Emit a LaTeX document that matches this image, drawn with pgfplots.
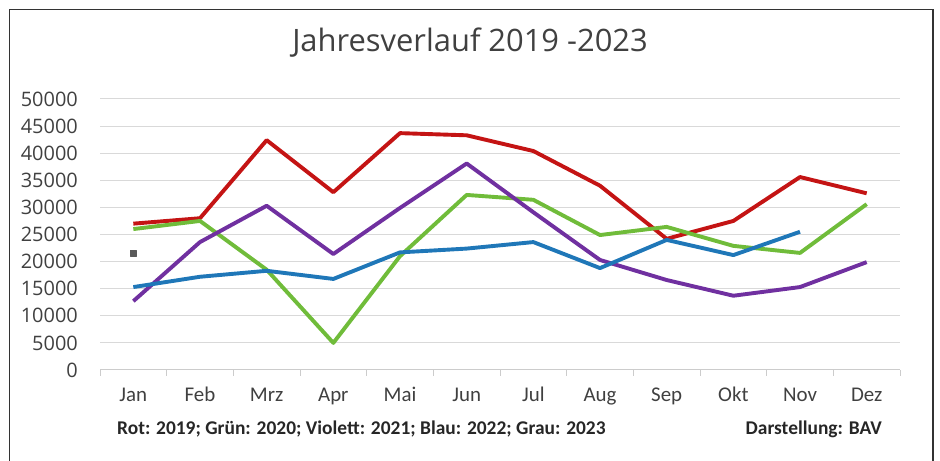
\documentclass[border=0pt]{standalone}
\usepackage{pgfplots}
\pgfplotsset{compat=1.18}
\usepackage{fontspec}
\setmainfont{Carlito}
\newfontfamily\titlefont{Open Sans}
\definecolor{rot}{RGB}{196,20,20}
\definecolor{gruen}{RGB}{112,188,58}
\definecolor{violett}{RGB}{112,48,160}
\definecolor{blau}{RGB}{31,119,184}
\definecolor{grau}{RGB}{90,90,90}
\definecolor{txt}{RGB}{64,64,64}
\begin{document}
\begin{tikzpicture}[x=1bp,y=1bp]
\path[use as bounding box] (0,0) rectangle (940,461);
\draw[line width=1.8bp, black!80] (9.5,0) -- (9.5,451.5) -- (933,451.5) -- (933,0);
\node[anchor=base, inner sep=0pt, font=\titlefont\fontsize{31}{34}\selectfont, text=txt] at (470,409) {Jahresverlauf 2019 -2023};
\node[anchor=base west, inner sep=0pt, font=\bfseries\fontsize{19.5}{22}\selectfont, text=black!85] at (117,26) {Rot: 2019; Grün: 2020; Violett: 2021; Blau: 2022; Grau: 2023};
\node[anchor=base east, inner sep=0pt, font=\bfseries\fontsize{19.5}{22}\selectfont, text=black!85] at (882,26) {Darstellung: BAV};
\begin{axis}[
  at={(100bp,91bp)}, anchor=south west,
  scale only axis, width=800bp, height=271bp,
  xmin=-0.5, xmax=11.5, ymin=0, ymax=50000,
  axis lines*=left,
  y axis line style={draw=none},
  x axis line style={gray!40, line width=1bp},
  xtick={0,...,11},
  xticklabels={Jan,Feb,Mrz,Apr,Mai,Jun,Jul,Aug,Sep,Okt,Nov,Dez},
  minor xtick={-0.5,0.5,...,11.5},
  major tick length=0pt,
  minor tick length=6bp,
  tick align=outside,
  minor tick style={gray!40, line width=1bp},
  ytick={0,5000,...,50000},
  scaled y ticks=false,
  /pgf/number format/assume math mode=true,
  /pgf/number format/1000 sep={},
  yticklabel style={anchor=east, inner sep=0pt, xshift=-22bp, font=\titlefont\fontsize{20}{22}\selectfont, text=txt},
  xticklabel style={anchor=base, inner sep=0pt, yshift=-32bp, font=\fontsize{21}{24}\selectfont, text=txt},
  ymajorgrids, grid style={gray!30, line width=1bp},
  every axis plot/.append style={line width=3.9bp, line join=round, mark=none},
  clip=false,
]
\addplot[rot] coordinates {(0,27000) (1,28000) (2,42400) (3,32800) (4,43700) (5,43300) (6,40400) (7,34000) (8,24200) (9,27500) (10,35600) (11,32600)};
\addplot[gruen] coordinates {(0,26000) (1,27500) (2,18500) (3,5000) (4,21000) (5,32300) (6,31400) (7,24900) (8,26400) (9,22900) (10,21600) (11,30600)};
\addplot[violett] coordinates {(0,12700) (1,23600) (2,30300) (3,21400) (4,29900) (5,38100) (6,29100) (7,20300) (8,16600) (9,13700) (10,15300) (11,19900)};
\addplot[blau] coordinates {(0,15300) (1,17200) (2,18300) (3,16800) (4,21700) (5,22400) (6,23600) (7,18800) (8,24000) (9,21200) (10,25500)};
\addplot[grau, only marks, mark=square*, mark size=3bp, mark options={line width=0.5bp}] coordinates {(0,21600)};
\end{axis}
\end{tikzpicture}
\end{document}
